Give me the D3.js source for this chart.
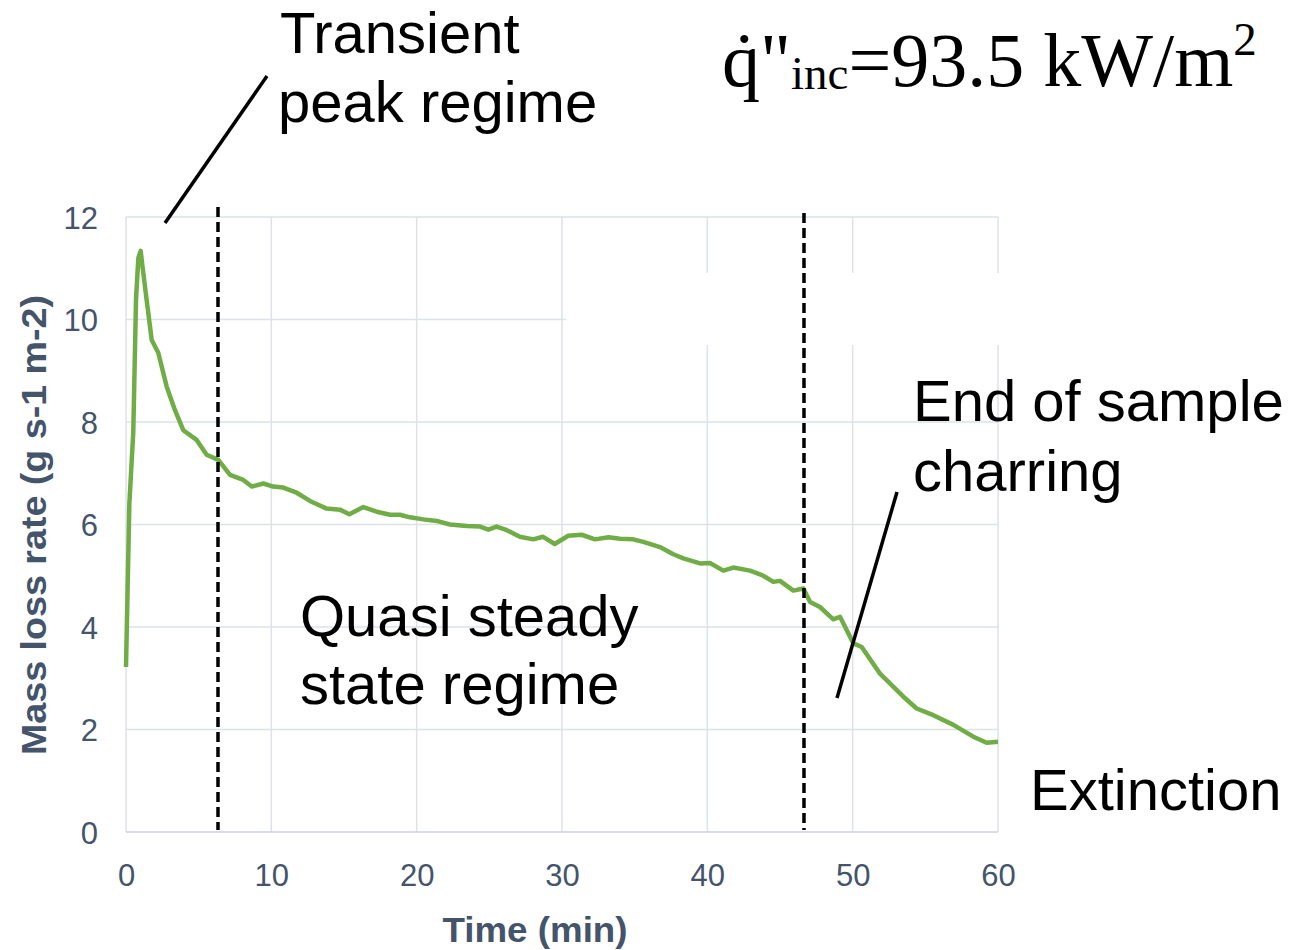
<!DOCTYPE html>
<html>
<head>
<meta charset="utf-8">
<script src="https://cdn.jsdelivr.net/npm/d3@7"></script>
<style>
  html, body { margin: 0; padding: 0; background: #ffffff; }
  svg { display: block; }
</style>
</head>
<body>
<svg id="chart" width="1295" height="950"></svg>
<script>
// Mass loss rate history, incident heat flux 93.5 kW/m2
const timeMin = [0, 0.23, 0.5, 0.69, 0.85, 1.01, 1.15, 1.42, 1.77, 2.22, 2.8, 3.37, 3.94, 4.86, 5.55, 6.35,
  7.16, 8.07, 8.65, 9.45, 10.13, 10.82, 11.74, 12.66, 13.8, 14.72, 15.37, 16.33, 17.25, 18.17, 18.85,
  19.54, 20.46, 21.37, 22.29, 23.44, 24.36, 24.93, 25.5, 26.2, 27.1, 28.02, 28.7, 29.5, 30.43, 31.35,
  32.27, 33.2, 34.0, 34.9, 35.6, 36.74, 37.66, 38.35, 39.5, 40.18, 41.1, 41.79, 42.94, 43.85, 44.54,
  45.0, 45.92, 46.61, 47.07, 47.75, 48.67, 49.13, 50.05, 50.62, 51.88, 53.49, 54.4, 55.55, 56.93,
  58.3, 59.22, 60];
const massLossRate = [3.22, 6.4, 7.8, 10.4, 11.2, 11.34, 11.0, 10.38, 9.6, 9.35, 8.69, 8.23, 7.84, 7.65, 7.36, 7.26,
  6.97, 6.87, 6.74, 6.8, 6.74, 6.72, 6.62, 6.46, 6.31, 6.29, 6.2, 6.34, 6.25, 6.19, 6.19,
  6.14, 6.1, 6.07, 6.0, 5.97, 5.96, 5.9, 5.96, 5.89, 5.76, 5.71, 5.76, 5.62, 5.78, 5.8,
  5.71, 5.75, 5.72, 5.71, 5.66, 5.56, 5.42, 5.34, 5.24, 5.25, 5.1, 5.16, 5.1, 5.0, 4.88,
  4.9, 4.71, 4.75, 4.49, 4.39, 4.15, 4.2, 3.68, 3.61, 3.09, 2.64, 2.41, 2.28, 2.09,
  1.86, 1.74, 1.76];

const xTicks = [0, 10, 20, 30, 40, 50, 60];
const yTicks = [0, 2, 4, 6, 8, 10, 12];

// Regime boundaries (min)
const regimeBounds = [6.33, 46.65];

const xTitle = "Time (min)";
const yTitle = "Mass loss rate (g s-1 m-2)";

const svg = d3.select("#chart");
const plot = { left: 126, right: 998, top: 217, bottom: 832 };

const x = d3.scaleLinear().domain([0, 60]).range([plot.left, plot.right]);
const y = d3.scaleLinear().domain([0, 12]).range([plot.bottom, plot.top]);

const gridColor = "#dde1e8";
const axisText = "#44546a";

// gridlines
svg.append("g").selectAll("line.h").data(yTicks.filter(d => d > 0)).join("line")
  .attr("x1", plot.left).attr("x2", plot.right)
  .attr("y1", d => y(d)).attr("y2", d => y(d))
  .attr("stroke", gridColor).attr("stroke-width", 1.5);
svg.append("g").selectAll("line.v").data(xTicks).join("line")
  .attr("x1", d => x(d)).attr("x2", d => x(d))
  .attr("y1", plot.top).attr("y2", plot.bottom)
  .attr("stroke", gridColor).attr("stroke-width", 1.5);

// opaque frame behind the heat flux label
svg.append("rect").attr("x", 566).attr("y", 273).attr("width", 450).attr("height", 72).attr("fill", "#ffffff");

// bottom axis line
svg.append("line")
  .attr("x1", plot.left).attr("x2", plot.right)
  .attr("y1", plot.bottom).attr("y2", plot.bottom)
  .attr("stroke", "#ccd1d9").attr("stroke-width", 1.5);

// axes labels
const xAxis = d3.axisBottom(x).tickValues(xTicks).tickSize(0).tickPadding(0).tickFormat(d3.format("d"));
const gx = svg.append("g").attr("transform", `translate(0,${plot.bottom})`).call(xAxis);
gx.select(".domain").remove();
gx.selectAll("text")
  .attr("y", 54).attr("dy", null)
  .attr("font-family", "Liberation Sans, Arial, sans-serif")
  .attr("font-size", 31).attr("fill", axisText);

const yAxis = d3.axisLeft(y).tickValues(yTicks).tickSize(0).tickPadding(28).tickFormat(d3.format("d"));
const gy = svg.append("g").attr("transform", `translate(${plot.left},0)`).call(yAxis);
gy.select(".domain").remove();
gy.selectAll("text")
  .attr("dy", "0.36em")
  .attr("font-family", "Liberation Sans, Arial, sans-serif")
  .attr("font-size", 31).attr("fill", axisText);

// axis titles
svg.append("text")
  .attr("x", 535).attr("y", 942)
  .attr("text-anchor", "middle")
  .attr("font-family", "Liberation Sans, Arial, sans-serif")
  .attr("font-weight", "bold").attr("font-size", 35)
  .attr("textLength", 185).attr("lengthAdjust", "spacingAndGlyphs")
  .attr("fill", axisText).text(xTitle);

svg.append("text")
  .attr("transform", "translate(46,525) rotate(-90)")
  .attr("text-anchor", "middle")
  .attr("font-family", "Liberation Sans, Arial, sans-serif")
  .attr("font-weight", "bold").attr("font-size", 35)
  .attr("textLength", 460).attr("lengthAdjust", "spacingAndGlyphs")
  .attr("fill", axisText).text(yTitle);

// data line
const line = d3.line().x((d, i) => x(timeMin[i])).y(d => y(d));
svg.append("path")
  .datum(massLossRate)
  .attr("d", line)
  .attr("fill", "none")
  .attr("stroke", "#70ad47")
  .attr("stroke-width", 4.5)
  .attr("stroke-linejoin", "round");

// regime boundaries
svg.append("g").selectAll("line").data(regimeBounds).join("line")
  .attr("x1", d => x(d)).attr("x2", d => x(d))
  .attr("y1", (d, i) => i === 0 ? 207 : 213).attr("y2", 830)
  .attr("stroke", "#000").attr("stroke-width", 3.5)
  .attr("stroke-dasharray", "10,5");

// annotation leaders
const leaders = [
  { x1: 165, y1: 223, x2: 267, y2: 76 },
  { x1: 837, y1: 698, x2: 897, y2: 492 }
];
svg.append("g").selectAll("line").data(leaders).join("line")
  .attr("x1", d => d.x1).attr("y1", d => d.y1)
  .attr("x2", d => d.x2).attr("y2", d => d.y2)
  .attr("stroke", "#000").attr("stroke-width", 3.5);

// annotation text
const notes = [
  { x: 280, y: 53, t: "Transient" },
  { x: 278, y: 122, t: "peak regime" },
  { x: 913, y: 421, t: "End of sample" },
  { x: 913, y: 491, t: "charring" },
  { x: 300, y: 636, t: "Quasi steady" },
  { x: 300, y: 704, t: "state regime" },
  { x: 1030, y: 810, t: "Extinction" }
];
svg.append("g").selectAll("text").data(notes).join("text")
  .attr("x", d => d.x).attr("y", d => d.y)
  .attr("font-family", "Liberation Sans, Arial, sans-serif")
  .attr("font-size", 58).attr("fill", "#000")
  .text(d => d.t);

// heat flux label
const hf = svg.append("text")
  .attr("x", 722).attr("y", 86)
  .attr("font-family", "Liberation Serif, 'Times New Roman', serif")
  .attr("font-size", 76).attr("fill", "#000");
hf.append("tspan").text("q\u0307\"");
hf.append("tspan").attr("font-size", 47).attr("dy", 3).text("inc");
hf.append("tspan").attr("dy", -3).text("=93.5 kW/m");
hf.append("tspan").attr("font-size", 47).attr("dy", -31).text("2");
</script>
</body>
</html>
